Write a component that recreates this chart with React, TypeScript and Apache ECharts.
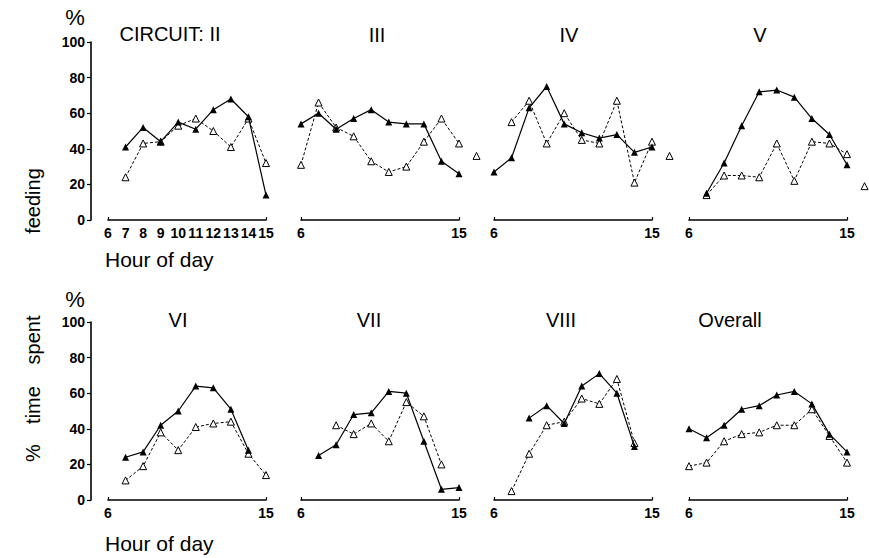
import React, { useEffect, useRef } from "react";
import * as echarts from "echarts";

// Hour of day (x values shared by every panel)
const hours = [6, 7, 8, 9, 10, 11, 12, 13, 14, 15, 16];

const panelTitles = ["CIRCUIT: II", "III", "IV", "V", "VI", "VII", "VIII", "Overall"];

// % time spent feeding, filled triangles (solid line); null = no observation
const solidII = [null, 41, 52, 44, 55, 51, 62, 68, 58, 14, null];
const solidIII = [54, 60, 51, 57, 62, 55, 54, 54, 33, 26, null];
const solidIV = [27, 35, 63, 75, 54, 49, 46, 48, 38, 41, null];
const solidV = [null, 15, 32, 53, 72, 73, 69, 57, 48, 31, null];
const solidVI = [null, 24, 27, 42, 50, 64, 63, 51, 28, null, null];
const solidVII = [null, 25, 31, 48, 49, 61, 60, 33, 6, 7, null];
const solidVIII = [null, null, 46, 53, 43, 64, 71, 60, 30, null, null];
const solidOverall = [40, 35, 42, 51, 53, 59, 61, 54, 37, 27, null];

// % time spent feeding, open triangles (dashed line)
const openII = [null, 24, 43, 44, 53, 57, 50, 41, 57, 32, null];
const openIII = [31, 66, 52, 47, 33, 27, 30, 44, 57, 43, 36];
const openIV = [null, 55, 67, 43, 60, 45, 43, 67, 21, 44, 36];
const openV = [null, 14, 25, 25, 24, 43, 22, 44, 43, 37, 19];
const openVI = [null, 11, 19, 38, 28, 41, 43, 44, 26, 14, null];
const openVII = [null, null, 42, 37, 43, 33, 55, 47, 20, null, null];
const openVIII = [null, 5, 26, 42, 44, 57, 54, 68, 32, null, null];
const openOverall = [19, 21, 33, 37, 38, 42, 42, 51, 36, 21, null];

const yTicks = [0, 20, 40, 60, 80, 100];
const xEndTicks = [6, 15];

const solidSets = [solidII, solidIII, solidIV, solidV, solidVI, solidVII, solidVIII, solidOverall];
const openSets = [openII, openIII, openIV, openV, openVI, openVII, openVIII, openOverall];

const FONT = "'Liberation Sans', Arial, Helvetica, sans-serif";

// layout of the 2 x 4 panel grid
const colLeft = [108, 301, 494, 689];
const rowTop = [42, 322];
const panelW = 158;
const panelH = 178;
const titlePos = [
  [170, 34], [377, 35], [569, 35], [760, 35],
  [178, 320], [369, 320], [561, 320], [730, 320],
];

const toPairs = (vals: (number | null)[]) =>
  hours.map((h, i) => [h, vals[i]]).filter((p) => p[1] !== null);

function buildOption() {
  const grid: any[] = [];
  const xAxis: any[] = [];
  const yAxis: any[] = [];
  const series: any[] = [];
  const graphic: any[] = [];

  for (let i = 0; i < 8; i++) {
    const row = Math.floor(i / 4);
    const col = i % 4;
    const firstCol = col === 0;
    grid.push({
      left: colLeft[col],
      top: rowTop[row],
      width: panelW,
      height: panelH,
      containLabel: false,
    });
    xAxis.push({
      type: "value",
      gridIndex: i,
      min: 6,
      max: 15,
      interval: 1,
      axisLine: { show: true, onZero: false, lineStyle: { color: "#000", width: 1.6 } },
      axisTick: {
        show: true,
        inside: true,
        length: 3,
        customValues: xEndTicks,
        lineStyle: { color: "#000", width: 1.2 },
      },
      axisLabel: {
        show: true,
        ...(i === 0 ? {} : { customValues: xEndTicks }),
        color: "#000",
        fontWeight: "bold",
        fontSize: 14,
        fontFamily: FONT,
        margin: 6,
      },
      splitLine: { show: false },
    });
    yAxis.push({
      type: "value",
      gridIndex: i,
      min: 0,
      max: 100,
      interval: 20,
      show: firstCol,
      position: "left",
      offset: 17,
      axisLine: { show: true, lineStyle: { color: "#000", width: 1.6 } },
      axisTick: { show: true, length: 4, customValues: yTicks, lineStyle: { color: "#000", width: 1.2 } },
      axisLabel: {
        color: "#000",
        fontWeight: "bold",
        fontSize: 14,
        fontFamily: FONT,
        margin: 6,
      },
      splitLine: { show: false },
    });

    series.push({
      type: "line",
      name: "open " + panelTitles[i],
      xAxisIndex: i,
      yAxisIndex: i,
      data: toPairs(openSets[i]),
      clip: false,
      symbol: "triangle",
      symbolSize: 7,
      itemStyle: { color: "#fff", borderColor: "#000", borderWidth: 1 },
      lineStyle: { color: "#000", width: 1, type: [3, 2] },
      z: 2,
    });
    series.push({
      type: "line",
      name: "filled " + panelTitles[i],
      xAxisIndex: i,
      yAxisIndex: i,
      data: toPairs(solidSets[i]),
      clip: false,
      symbol: "triangle",
      symbolSize: 7,
      itemStyle: { color: "#000", borderColor: "#000", borderWidth: 0 },
      lineStyle: { color: "#000", width: 1.2, type: "solid" },
      z: 3,
    });

    graphic.push({
      type: "text",
      x: titlePos[i][0],
      y: titlePos[i][1],
      style: {
        text: panelTitles[i],
        fill: "#000",
        font: `20px ${FONT}`,
        textAlign: "center",
        textVerticalAlign: "middle",
      },
    });
  }

  // "%" unit marks above the y axes
  [17, 299].forEach((y) => {
    graphic.push({
      type: "text",
      x: 75,
      y,
      style: { text: "%", fill: "#000", font: `22px ${FONT}`, textAlign: "center", textVerticalAlign: "middle" },
    });
  });

  // x-axis titles
  [259, 543].forEach((y) => {
    graphic.push({
      type: "text",
      x: 105,
      y,
      style: { text: "Hour of day", fill: "#000", font: `21px ${FONT}`, textAlign: "left", textVerticalAlign: "middle" },
    });
  });

  // y-axis title, rotated, words spaced along the axis
  const yTitleWords: [string, number][] = [["%", 453], ["time", 405], ["spent", 340], ["feeding", 201]];
  yTitleWords.forEach(([w, y]) => {
    graphic.push({
      type: "text",
      x: 33,
      y,
      rotation: Math.PI / 2,
      style: { text: w, fill: "#000", font: `20px ${FONT}`, textAlign: "center", textVerticalAlign: "middle" },
    });
  });

  return {
    animation: false,
    backgroundColor: "#fff",
    grid,
    xAxis,
    yAxis,
    series,
    graphic,
  };
}

export default function App() {
  const ref = useRef<HTMLDivElement>(null);
  useEffect(() => {
    if (!ref.current) return;
    const chart = echarts.init(ref.current, undefined, { renderer: "svg" });
    chart.setOption(buildOption() as any);
    return () => chart.dispose();
  }, []);
  return (
    <div
      ref={ref}
      style={{ position: "absolute", left: 0, top: 0, width: 869, height: 558, background: "#fff" }}
    />
  );
}
